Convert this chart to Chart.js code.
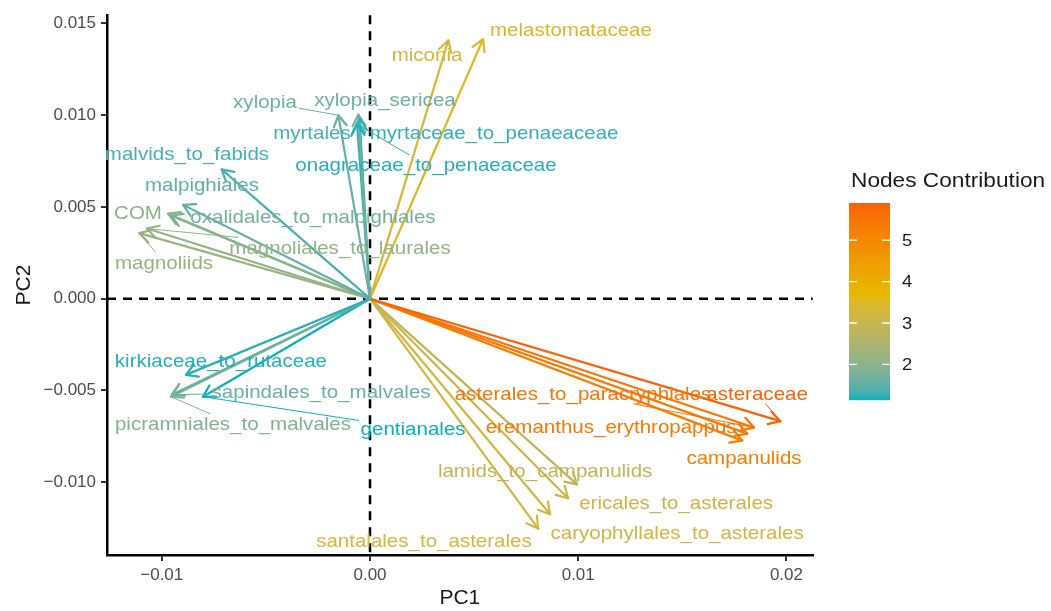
<!DOCTYPE html>
<html><head><meta charset="utf-8">
<script src="https://cdn.jsdelivr.net/npm/chart.js@4.4.1/dist/chart.umd.min.js"></script>
<style>html,body{margin:0;padding:0;background:#fff;}</style>
</head><body>
<canvas id="c" width="1051" height="611"></canvas>
<script>
// ---- data ----
const variables = ["xylopia","xylopia_sericea","myrtales","myrtaceae_to_penaeaceae","onagraceae_to_penaeaceae",
 "malvids_to_fabids","malpighiales","COM","oxalidales_to_malpighiales","magnoliids","magnoliales_to_laurales",
 "kirkiaceae_to_rutaceae","sapindales_to_malvales","picramniales_to_malvales","gentianales",
 "miconia","melastomataceae","asteraceae","asterales_to_paracryphiales","eremanthus_erythropappus","campanulids",
 "lamids_to_campanulids","ericales_to_asterales","caryophyllales_to_asterales","santalales_to_asterales"];
const pc1 = [-0.00152,-0.00056,-0.00058,-0.00050,-0.00062,
 -0.00712,-0.00897,-0.00970,-0.00956,-0.01108,-0.01071,
 -0.00884,-0.00951,-0.00956,-0.00802,
 0.00376,0.00543,0.01971,0.01844,0.01811,0.01787,
 0.00994,0.00951,0.00865,0.00808];
const pc2 = [0.00999,0.01002,0.00963,0.00980,0.00951,
 0.00704,0.00511,0.00463,0.00453,0.00357,0.00382,
 -0.00415,-0.00523,-0.00534,-0.00534,
 0.01407,0.01413,-0.00667,-0.00702,-0.00735,-0.00773,
 -0.01011,-0.01087,-0.01174,-0.01252];
const contrib = [1.6,1.65,1.35,1.25,1.2,
 1.35,1.5,2.0,1.7,2.2,2.1,
 1.2,1.6,1.85,1.15,
 3.3,3.5,5.9,5.5,5.4,5.3,
 2.9,3.1,3.2,3.25];
const labelX = [-0.00504,0.00072,-0.00279,0.00596,0.00269,
 -0.00879,-0.00807,-0.01114,-0.00274,-0.00989,-0.00144,
 -0.00716,-0.00235,-0.00658,0.00207,
 0.00274,0.00965,0.01859,0.01023,0.01158,0.01796,
 0.00841,0.01470,0.01475,0.00259];
const labelY = [0.01071,0.01082,0.00903,0.00903,0.00729,
 0.00789,0.00621,0.00469,0.00447,0.00198,0.00279,
 -0.00339,-0.00507,-0.00681,-0.00708,
 0.01326,0.01462,-0.00518,-0.00518,-0.00697,-0.00865,
 -0.00935,-0.01109,-0.01277,-0.01320];
// labels joined to their arrow tip by a repel segment
const segmentLabels = ["xylopia","onagraceae_to_penaeaceae","magnoliids","magnoliales_to_laurales",
 "sapindales_to_malvales","picramniales_to_malvales","gentianales","asteraceae","asterales_to_paracryphiales"];
const xTicks = [-0.01, 0.00, 0.01, 0.02];
const yTicks = [-0.010, -0.005, 0.000, 0.005, 0.010, 0.015];
const xRange = [-0.01263, 0.02126];
const yRange = [-0.01396, 0.01544];
const legendTicks = [2, 3, 4, 5];
const contribLimits = [1.14, 5.90];
const contribMid = 3.7;
const gradientColors = ["#00AFBB", "#E7B800", "#FC4E07"];
const legendTitle = "Nodes Contribution";

// ---- colour helpers (Lab interpolation, like scales::gradient2) ----
function hexRgb(h){return [1,3,5].map(i=>parseInt(h.slice(i,i+2),16));}
function lin(c){c/=255;return c<=0.04045?c/12.92:Math.pow((c+0.055)/1.055,2.4);}
function unlin(c){c=c<=0.0031308?12.92*c:1.055*Math.pow(c,1/2.4)-0.055;return Math.max(0,Math.min(255,Math.round(c*255)));}
function f(t){return t>0.008856?Math.cbrt(t):7.787*t+16/116;}
function fi(t){const t3=t*t*t;return t3>0.008856?t3:(t-16/116)/7.787;}
function toLab(h){const [r,g,b]=hexRgb(h).map(lin);
 const X=(0.4124*r+0.3576*g+0.1805*b)/0.95047,Y=0.2126*r+0.7152*g+0.0722*b,Z=(0.0193*r+0.1192*g+0.9505*b)/1.08883;
 return [116*f(Y)-16,500*(f(X)-f(Y)),200*(f(Y)-f(Z))];}
function fromLab([L,a,b]){const fy=(L+16)/116,fx=fy+a/500,fz=fy-b/200;
 const X=fi(fx)*0.95047,Y=fi(fy),Z=fi(fz)*1.08883;
 const r=3.2406*X-1.5372*Y-0.4986*Z,g=-0.9689*X+1.8758*Y+0.0415*Z,bb=0.0557*X-0.2040*Y+1.0570*Z;
 return 'rgb('+unlin(r)+','+unlin(g)+','+unlin(bb)+')';}
const labs = gradientColors.map(toLab);
function colorFor(v){
 const md=Math.max(contribMid-contribLimits[0],contribLimits[1]-contribMid);
 let t=0.5+(v-contribMid)/(2*md); t=Math.max(0,Math.min(1,t));
 let A,B,u; if(t<=0.5){A=labs[0];B=labs[1];u=t/0.5;}else{A=labs[1];B=labs[2];u=(t-0.5)/0.5;}
 return fromLab(A.map((c,i)=>c+(B[i]-c)*u));}

const FAMILY = "'Liberation Sans', Arial, Helvetica, sans-serif";
const STRETCH = 1.08;
const colors = contrib.map(colorFor);

function fmt(v,d){return (v<0?'\u2212':'')+Math.abs(v).toFixed(d);}
function stretchText(ctx,text,x,y,align){
 ctx.save();ctx.translate(x,y);ctx.scale(STRETCH,1);ctx.textAlign=align||'center';ctx.fillText(text,0,0);ctx.restore();}

const biplot = {
 id:'biplot',
 beforeDatasetsDraw(chart){
  const {ctx,chartArea:a,scales:{x,y}}=chart;
  const x0=x.getPixelForValue(0),y0=y.getPixelForValue(0);
  ctx.save();ctx.strokeStyle='#000';ctx.lineWidth=2.5;ctx.setLineDash([9,7]);
  ctx.beginPath();ctx.moveTo(x0,a.top);ctx.lineTo(x0,a.bottom);ctx.stroke();
  ctx.beginPath();ctx.moveTo(a.left,y0);ctx.lineTo(a.right,y0);ctx.stroke();
  ctx.restore();
 },
 afterDatasetsDraw(chart){
  const {ctx,scales:{x,y}}=chart;
  const ox=x.getPixelForValue(0),oy=y.getPixelForValue(0);
  ctx.save();
  // arrowheads
  ctx.lineWidth=2.2;ctx.lineCap='round';ctx.lineJoin='round';
  for(let i=0;i<variables.length;i++){
   const tx=x.getPixelForValue(pc1[i]),ty=y.getPixelForValue(pc2[i]);
   const ang=Math.atan2(ty-oy,tx-ox),L=13,w=Math.PI/6;
   ctx.strokeStyle=colors[i];ctx.beginPath();
   ctx.moveTo(tx-L*Math.cos(ang-w),ty-L*Math.sin(ang-w));ctx.lineTo(tx,ty);
   ctx.lineTo(tx-L*Math.cos(ang+w),ty-L*Math.sin(ang+w));ctx.stroke();
  }
  // labels + repel segments
  ctx.font='19px '+FAMILY;ctx.textBaseline='middle';
  for(let i=0;i<variables.length;i++){
   const tx=x.getPixelForValue(pc1[i]),ty=y.getPixelForValue(pc2[i]);
   const lx=x.getPixelForValue(labelX[i]),ly=y.getPixelForValue(labelY[i]);
   if(segmentLabels.includes(variables[i])){
    const hw=ctx.measureText(variables[i]).width*STRETCH/2+2,hh=10;
    const dx=tx-lx,dy=ty-ly;
    const t=Math.min(dx?hw/Math.abs(dx):Infinity,dy?hh/Math.abs(dy):Infinity);
    if(t<1){ctx.strokeStyle=colors[i];ctx.lineWidth=1;ctx.beginPath();
     ctx.moveTo(lx+dx*t,ly+dy*t);ctx.lineTo(tx,ty);ctx.stroke();}
   }
   ctx.fillStyle=colors[i];stretchText(ctx,variables[i],lx,ly+1,'center');
  }
  ctx.restore();
 },
 afterDraw(chart){
  const ctx=chart.ctx;
  const bx=849,bw=41,top=203,bot=400;
  ctx.save();
  for(let py=top;py<bot;py++){
   const v=contribLimits[1]-(py+0.5-top)/(bot-top)*(contribLimits[1]-contribLimits[0]);
   ctx.fillStyle=colorFor(v);ctx.fillRect(bx,py,bw,1.2);
  }
  ctx.strokeStyle='rgba(255,255,255,0.9)';ctx.lineWidth=1.3;
  ctx.font='17px '+FAMILY;ctx.textBaseline='middle';ctx.fillStyle='#1a1a1a';
  legendTicks.forEach(v=>{
   const py=top+(contribLimits[1]-v)/(contribLimits[1]-contribLimits[0])*(bot-top);
   ctx.beginPath();ctx.moveTo(bx,py);ctx.lineTo(bx+8,py);ctx.moveTo(bx+bw-8,py);ctx.lineTo(bx+bw,py);ctx.stroke();
   stretchText(ctx,String(v),902,py+1,'left');
  });
  ctx.font='21px '+FAMILY;ctx.fillStyle='#1a1a1a';
  stretchText(ctx,legendTitle,851,181,'left');
  ctx.restore();
 }
};

const datasets = variables.map((v,i)=>({
 label:v,data:[{x:0,y:0},{x:pc1[i],y:pc2[i]}],showLine:true,borderColor:colors[i],
 borderWidth:2.2,pointRadius:0,borderCapStyle:'round',fill:false
}));

new Chart(document.getElementById('c'),{
 type:'scatter',
 data:{datasets},
 options:{
  responsive:false,animation:false,devicePixelRatio:1,
  layout:{padding:{left:0,top:12.7,right:238.3,bottom:0}},
  plugins:{legend:{display:false},tooltip:{enabled:false}},
  scales:{
   x:{type:'linear',min:xRange[0],max:xRange[1],
    afterBuildTicks:s=>{s.ticks=xTicks.map(v=>({value:v}));},
    afterFit:s=>{s.height=56;},
    ticks:{callback:v=>fmt(v,2),font:{size:17,family:FAMILY},color:'#4d4d4d',padding:4,maxRotation:0,autoSkip:false},
    grid:{drawOnChartArea:false,drawTicks:true,tickLength:6,color:'#333',lineWidth:2},
    border:{display:true,color:'#000',width:2.5},
    title:{display:true,text:'PC1',font:{size:21,family:FAMILY},color:'#1a1a1a',padding:{top:0,bottom:0}}},
   y:{type:'linear',min:yRange[0],max:yRange[1],
    afterBuildTicks:s=>{s.ticks=yTicks.map(v=>({value:v}));},
    afterFit:s=>{s.width=107;},
    ticks:{callback:v=>fmt(v,3),font:{size:17,family:FAMILY},color:'#4d4d4d',padding:5,autoSkip:false},
    grid:{drawOnChartArea:false,drawTicks:true,tickLength:6,color:'#333',lineWidth:2},
    border:{display:true,color:'#000',width:2.5},
    title:{display:true,text:'PC2',font:{size:21,family:FAMILY},color:'#1a1a1a',padding:{top:12,bottom:0}}}
  }
 },
 plugins:[biplot]
});
</script>
</body></html>
